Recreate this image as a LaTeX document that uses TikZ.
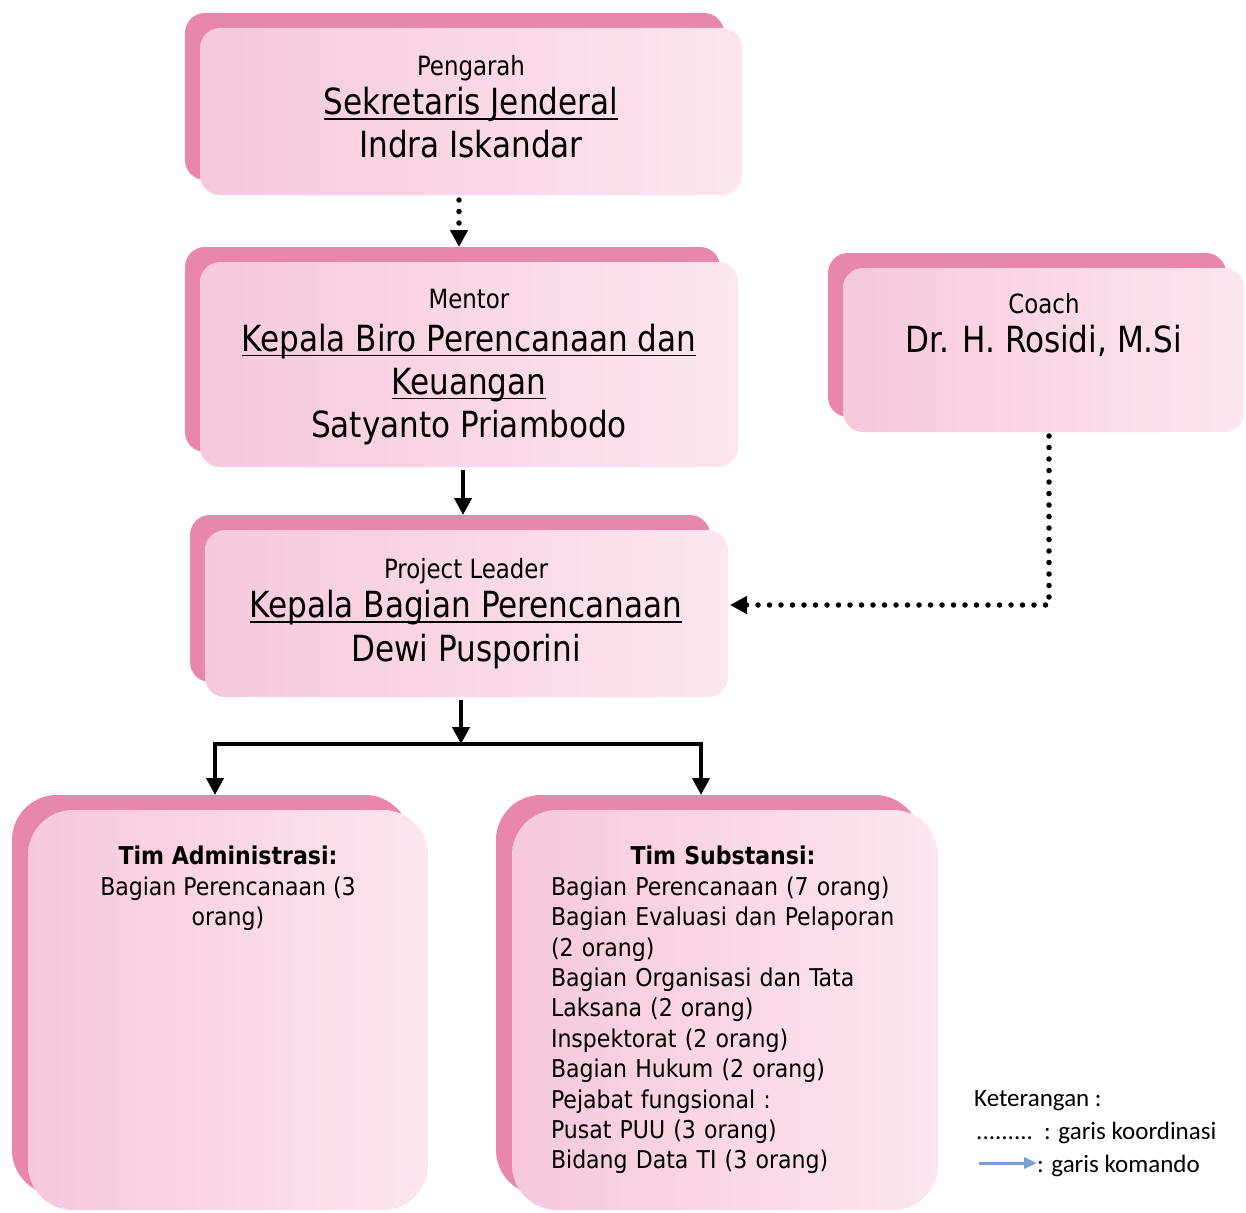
\documentclass[tikz,border=0pt]{standalone}
\usepackage{fontspec}
\setmainfont{DejaVu Sans Condensed}
\newfontfamily\bigfnt{DejaVu Sans Condensed}[FakeStretch=0.96]
\newfontfamily\legfont{Carlito}
\usetikzlibrary{arrows.meta,backgrounds,calc}
\definecolor{backpink}{RGB}{232,134,173}
\definecolor{pinkL}{RGB}{246,200,221}
\definecolor{pinkR}{RGB}{252,230,240}
\definecolor{legblue}{RGB}{120,160,210}
\newsavebox\ulbox
\newcommand\ulin[1]{\sbox\ulbox{#1}\rlap{\rule[-5pt]{\wd\ulbox}{1.6pt}}\usebox\ulbox}
\newcommand\smallt{\fontsize{26.5}{30}\selectfont}
\begin{document}
\begin{tikzpicture}[x=1pt,y=-1pt,
  frontbox/.style={rounded corners=20pt, left color=pinkL, right color=pinkR, draw=none, inner sep=0pt, outer sep=0pt},
  bigbox/.style={frontbox, rounded corners=45pt},
  txt/.style={inner sep=0pt, align=center, font=\bigfnt\fontsize{36}{43}\selectfont},
  tim/.style={inner sep=0pt, font=\fontsize{24.5}{30.4}\selectfont},
  leg/.style={inner sep=0pt, font=\legfont\fontsize{25}{30}\selectfont},
  cmd/.style={line width=4pt, -{Triangle[width=17pt,length=17pt]}},
  koor/.style={line width=5.5pt, line cap=round, dash pattern=on 0pt off 11.5pt, -{Triangle[width=17pt,length=17pt]}}
]
\useasboundingbox (0,0) rectangle (1246,1212);

% front boxes
\node[frontbox, minimum width=542pt, minimum height=167pt] (b1) at (471,111.5) {};
\node[frontbox, minimum width=538pt, minimum height=205pt] (b2) at (469,364.5) {};
\node[frontbox, minimum width=401pt, minimum height=164pt] (co) at (1043.5,350) {};
\node[frontbox, minimum width=523pt, minimum height=167pt] (b3) at (466.5,613.5) {};
\node[bigbox, minimum width=400pt, minimum height=400pt] (ta) at (228,1010) {};
\node[bigbox, minimum width=426pt, minimum height=400pt] (ts) at (725,1010) {};

% back boxes
\begin{scope}[on background layer]
  \fill[white] (0,0) rectangle (1246,1212);
  \foreach \n in {b1,b2,b3,co}
    \fill[backpink, rounded corners=20pt] ([shift={(-15pt,15pt)}]\n.south west) rectangle ([shift={(-18pt,15pt)}]\n.north east);
  \foreach \n in {ta,ts}
    \fill[backpink, rounded corners=45pt] ([shift={(-16pt,15pt)}]\n.south west) rectangle ([shift={(-18pt,15pt)}]\n.north east);
\end{scope}

% texts
\node[txt] (b1t) at (471,107) {{\smallt Pengarah}\\[-4pt] \ulin{Sekretaris Jenderal}\\ Indra Iskandar};
\node[txt] (b2t) at (469,367) {{\smallt Mentor}\\ \ulin{Kepala Biro Perencanaan dan}\\ \ulin{Keuangan}\\ Satyanto Priambodo};
\node[txt] (cot) at (1044,325) {{\smallt Coach}\\[-4pt] Dr. H. Rosidi, M.Si};
\node[txt] (b3t) at (466,614) {{\smallt Project Leader}\\[-4pt] \ulin{Kepala Bagian Perencanaan}\\[1pt] Dewi Pusporini};
\node[tim, align=center, anchor=north] (tat) at (228,846) {\textbf{Tim Administrasi:}\\ Bagian Perencanaan (3\\ orang)};
\node[tim, align=left, text width=350pt, anchor=north] (tst) at (726,846) {\makebox[\linewidth][c]{\hspace*{-6pt}\textbf{Tim Substansi:}}\\
Bagian Perencanaan (7 orang)\\
Bagian Evaluasi dan Pelaporan\\
(2 orang)\\
Bagian Organisasi dan Tata\\
Laksana (2 orang)\\
Inspektorat (2 orang)\\
Bagian Hukum (2 orang)\\
Pejabat fungsional :\\
Pusat PUU (3 orang)\\
Bidang Data TI (3 orang)};

% connectors
\draw[koor] ([shift={(-12pt,-5pt)}]b1.south) -- ([shift={(-10pt,15pt)}]b2.north);
\draw[cmd] ([shift={(-6pt,-3pt)}]b2.south) -- ([shift={(-3.5pt,15pt)}]b3.north);
\draw[koor] ([shift={(5.5pt,-4pt)}]co.south) |- ([shift={(2pt,8.5pt)}]b3.east);
\coordinate (j) at (461,744);
\coordinate (tain) at ([shift={(-13pt,15pt)}]ta.north);
\coordinate (tsin) at ([shift={(-24pt,15pt)}]ts.north);
\draw[cmd] ([shift={(-5.5pt,-3pt)}]b3.south) -- (j);
\draw[line width=4pt, {Triangle[width=17pt,length=17pt]}-{Triangle[width=17pt,length=17pt]}] (tain) -- (tain |- j) -- (tsin |- j) -- (tsin);

% legend
\node[leg, anchor=west] (k0) at (974,1101) {Keterangan :};
\node[leg, anchor=west] (k1) at (976,1133) {.........\ \ : garis koordinasi};
\node[leg, anchor=west] (k2) at (1037,1166) {: garis komando};
\coordinate (la) at (979,1163);
\draw[legblue, line width=3pt, -{Triangle[width=11pt,length=13pt]}] (la) -- ([yshift=3pt]k2.west);
\end{tikzpicture}
\end{document}
